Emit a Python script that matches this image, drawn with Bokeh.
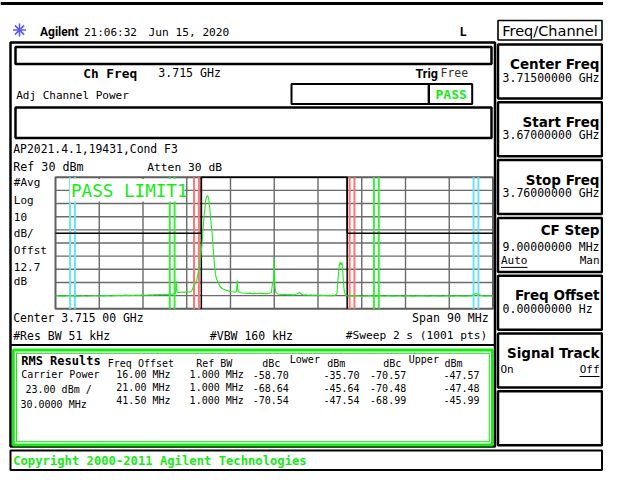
from bokeh.plotting import figure
from bokeh.models import Range1d
from bokeh.core.properties import value
from bokeh.embed import file_html
from bokeh.resources import INLINE

# ---------------- data ----------------
CENTER_GHZ = 3.715
SPAN_MHZ = 90.0
REF_DBM = 30.0
DB_PER_DIV = 10.0
N_DIV = 10
INTEG_BW_MHZ = 30.0
MASK_DBM = -12.6
CARRIER_DBM = 23.00

OFFSETS_MHZ = [16.00, 21.00, 41.50]
REF_BW_MHZ = [1.000, 1.000, 1.000]
LOWER_DBC = [-58.70, -68.64, -70.54]
LOWER_DBM = [-35.70, -45.64, -47.54]
UPPER_DBC = [-70.57, -70.48, -68.99]
UPPER_DBM = [-47.57, -47.48, -45.99]
MARKER_COLORS = ["#ff7474", "#3aee3a", "#6ae4f4"]

TRACE_MHZ = [
    -45.0, -44.5, -44.0, -43.5, -43.0, -42.5, -42.0, -41.5, -41.0, -40.5,
    -40.0, -39.5, -39.0, -38.5, -38.0, -37.5, -37.0, -36.5, -36.0, -35.5,
    -35.0, -34.5, -34.0, -33.5, -33.0, -32.5, -32.0, -31.5, -31.0, -30.5,
    -30.0, -29.5, -29.0, -28.5, -28.0, -27.5, -27.0, -26.5, -26.0, -25.5,
    -25.0, -24.5, -24.0, -23.5, -23.0, -22.5, -22.0, -21.5, -21.0, -20.6,
    -20.3, -20.15, -20.0, -19.5, -19.0, -18.5, -18.0, -17.5, -17.0, -16.6,
    -16.2, -15.9, -15.6, -15.4, -15.1, -14.8, -14.5, -14.3, -14.1, -13.9,
    -13.7, -13.5, -13.3, -13.1, -12.9, -12.7, -12.5, -12.3, -12.1, -11.9,
    -11.6, -11.3, -11.0, -10.5, -10.0, -9.5, -9.0, -8.5, -8.0, -7.75,
    -7.6, -7.45, -7.0, -6.5, -6.0, -5.5, -5.0, -4.5, -4.0, -3.5,
    -3.0, -2.5, -2.0, -1.5, -1.0, -0.6, -0.35, -0.15, -0.05, 0.1,
    0.3, 0.7, 1.2, 1.7, 2.2, 2.7, 3.2, 3.7, 4.2, 4.7,
    5.2, 5.6, 6.0, 6.5, 7.0, 7.5, 8.0, 8.5, 9.0, 9.5,
    10.0, 10.5, 11.0, 11.5, 12.0, 12.5, 12.9, 13.15, 13.35, 13.55,
    13.75, 13.95, 14.15, 14.35, 14.6, 15.0, 15.5, 16.0, 16.5, 17.0,
    17.5, 18.0, 18.5, 19.0, 19.5, 20.0, 20.5, 21.0, 21.5, 22.0,
    22.5, 23.0, 23.5, 24.0, 24.5, 25.0, 25.5, 26.0, 26.5, 27.0,
    27.5, 28.0, 28.5, 29.0, 29.5, 30.0, 30.5, 31.0, 31.5, 32.0,
    32.5, 33.0, 33.5, 34.0, 34.5, 35.0, 35.5, 36.0, 36.5, 37.0,
    37.5, 38.0, 38.5, 39.0, 39.5, 40.0, 40.5, 41.0, 41.5, 42.0,
    42.5, 43.0, 43.5, 44.0, 44.5, 45.0,
]
TRACE_DBM = [
    -60.3, -60.0, -60.5, -60.2, -60.4, -59.9, -60.3, -60.1, -60.6, -60.2,
    -60.4, -60.0, -60.3, -60.5, -60.1, -60.3, -59.9, -60.2, -60.4, -60.0,
    -60.2, -59.8, -60.1, -60.3, -59.9, -60.0, -59.7, -60.1, -59.8, -59.6,
    -60.0, -59.7, -59.9, -59.5, -59.8, -59.6, -59.4, -59.7, -59.5, -59.3,
    -59.6, -59.2, -59.4, -59.0, -59.3, -58.9, -59.1, -58.7, -58.9, -58.4,
    -57.8, -49.0, -57.3, -57.6, -57.2, -57.5, -57.1, -57.4, -56.6, -53.0,
    -50.6, -47.5, -42.0, -37.5, -30.0, -18.0, -2.0, 5.0, 12.5, 15.2,
    16.0, 14.0, 7.5, -1.0, -8.5, -17.0, -27.0, -36.5, -43.5, -47.0,
    -49.5, -52.0, -53.8, -55.0, -55.8, -56.2, -56.8, -57.1, -57.3, -56.5,
    -48.5, -56.8, -57.6, -58.0, -58.2, -58.4, -58.1, -58.5, -58.3, -58.6,
    -58.2, -58.5, -58.3, -58.6, -58.2, -57.6, -50.5, -50.0, -31.2, -51.0,
    -57.5, -58.7, -58.9, -59.2, -59.0, -59.3, -59.1, -59.4, -59.2, -58.8,
    -57.6, -59.0, -59.5, -59.3, -59.7, -59.4, -59.8, -59.5, -59.9, -59.6,
    -59.9, -59.7, -60.0, -59.8, -60.1, -59.8, -58.5, -46.0, -38.0, -34.6,
    -36.5, -34.8, -45.0, -55.0, -59.5, -60.1, -60.4, -60.2, -60.5, -60.1,
    -60.3, -60.6, -60.2, -60.4, -60.0, -60.3, -60.5, -60.2, -60.4, -60.1,
    -60.5, -60.3, -60.0, -60.4, -60.2, -60.5, -60.1, -60.3, -60.6, -60.2,
    -60.0, -60.4, -60.2, -60.5, -60.1, -60.3, -60.0, -60.4, -60.2, -60.5,
    -60.3, -60.1, -60.4, -60.2, -60.5, -60.3, -60.0, -60.4, -60.2, -60.5,
    -60.1, -60.3, -60.4, -60.2, -60.5, -60.1, -60.3, -59.2, -58.4, -58.9,
    -59.8, -60.2, -60.4, -60.1, -60.3, -60.2,
]

# ---------------- layout (page pixel space) ----------------
X0, X1 = 0, 603
Y0, Y1 = 0, 477
GX0, GX1 = 55.0, 492.5
GY0, GY1 = 176.7, 308.3
PL, PR = 497.5, 601.5          # soft-key panel
TXR = PR - 2.5                 # right text edge in panel

p = figure(width=603, height=477, x_range=Range1d(X0, X1), y_range=Range1d(Y1, Y0),
           output_backend="svg", toolbar_location=None, x_axis_type=None, y_axis_type=None,
           min_border=0, background_fill_color="white", border_fill_color="white")
p.outline_line_color = None
p.xgrid.visible = False
p.ygrid.visible = False

# extra ranges so the trace goes through Bokeh's own scales
ppm = (GX1 - GX0) / SPAN_MHZ
ppd = (GY1 - GY0) / (N_DIV * DB_PER_DIV)
BOT_DBM = REF_DBM - N_DIV * DB_PER_DIV
p.extra_x_ranges = {"f": Range1d(-SPAN_MHZ / 2 - (GX0 - X0) / ppm, SPAN_MHZ / 2 + (X1 - GX1) / ppm)}
p.extra_y_ranges = {"db": Range1d(BOT_DBM - (Y1 - GY1) / ppd, REF_DBM + (GY0 - Y0) / ppd)}
FR = dict(x_range_name="f", y_range_name="db")


def T(x, y, s, size=11.5, font="DejaVu Sans Mono", bold=False, color="black", align="left"):
    p.text(x=[x], y=[y], text=[s], text_font=value(font), text_font_size=f"{size}px",
           text_font_style="bold" if bold else "normal", text_color=color,
           text_align=align, text_baseline="middle")


def box(l, r, t, b, lw=2.5, color="black", fill=None):
    p.quad(left=[l], right=[r], top=[t], bottom=[b], fill_color=fill,
           line_color=color, line_width=lw)


GREEN = "#14ec14"

# ---------------- header ----------------
p.segment(x0=[0], y0=[3], x1=[603], y1=[3], line_color="black", line_width=3)
p.scatter(x=[19], y=[29.5], marker="asterisk", size=13, line_color="#5c5cf2", line_width=1.6)
T(39.5, 31, "Agilent", size=12, font="Roboto", bold=True)
T(83.5, 31.5, "21:06:32", size=11)
T(148, 31.5, "Jun 15, 2020", size=11.2)
T(459, 31.5, "L", size=12, bold=True)
box(PL, PR, 20, 39.5, lw=1.6)
T((PL + PR) / 2, 30, "Freq/Channel", size=14.5, font="DejaVu Sans", align="center")

# ---------------- screen ----------------
box(10, 494.5, 42, 446, lw=2.5)
box(15, 491, 46.5, 63.5, lw=2.5)
T(82.7, 72.7, "Ch Freq", size=12.8, bold=True)
T(157.7, 72.7, f"{CENTER_GHZ:.3f} GHz", size=11.6)
T(415, 72.7, "Trig", size=12.5, font="Roboto", bold=True)
T(440, 72.7, "Free", size=11.5, color="#333333")
T(15.7, 95, "Adj Channel Power", size=11)
box(291, 428.3, 83.5, 103.5, lw=2)
box(428.3, 471.7, 83.5, 103.5, lw=2)
T(450.7, 93.5, "PASS", size=13, bold=True, color=GREEN, align="center")
box(15, 491, 107, 137.5, lw=2.5)
T(12.7, 148.3, "AP2021.4.1,19431,Cond F3", size=11.4)
T(12.7, 166.7, f"Ref {REF_DBM:.0f} dBm", size=11.7)
T(146.7, 166.7, "Atten 30 dB", size=11.3)
for lab, yy in [("#Avg", 181.7), ("Log", 200), (f"{DB_PER_DIV:.0f}", 216), ("dB/", 232.7),
                ("Offst", 250), ("12.7", 266), ("dB", 281)]:
    T(13.3, yy, lab, size=11)

# ---------------- graticule ----------------
vx = [-SPAN_MHZ / 2 + i * SPAN_MHZ / N_DIV for i in range(1, N_DIV)]
p.segment(x0=vx, y0=[BOT_DBM] * len(vx), x1=vx, y1=[REF_DBM] * len(vx),
          line_color="#6a6a6a", line_width=1.4, **FR)
hy = [REF_DBM - j * DB_PER_DIV for j in range(1, N_DIV)]
p.segment(x0=[-SPAN_MHZ / 2] * len(hy), y0=hy, x1=[SPAN_MHZ / 2] * len(hy), y1=hy,
          line_color="#6a6a6a", line_width=1.4, **FR)
p.quad(left=[-SPAN_MHZ / 2], right=[SPAN_MHZ / 2], top=[REF_DBM], bottom=[BOT_DBM],
       fill_color=None, line_color="#5e5e5e", line_width=2, **FR)

# marker pairs from the table offsets
for off, bw, col in zip(OFFSETS_MHZ, REF_BW_MHZ, MARKER_COLORS):
    xs = [s * off + d * bw / 2 for s in (-1, 1) for d in (-1, 1)]
    p.segment(x0=xs, y0=[BOT_DBM] * 4, x1=xs, y1=[REF_DBM] * 4, line_color=col,
              line_width=2, **FR)

# channel edges and mask
ch = INTEG_BW_MHZ / 2
p.segment(x0=[-ch, ch], y0=[BOT_DBM] * 2, x1=[-ch, ch], y1=[REF_DBM] * 2,
          line_color="black", line_width=1.5, **FR)
p.line(x=[-SPAN_MHZ / 2, -ch, -ch, ch, ch, SPAN_MHZ / 2],
       y=[MASK_DBM, MASK_DBM, REF_DBM, REF_DBM, MASK_DBM, MASK_DBM],
       line_color="black", line_width=1.5, **FR)

# PASS LIMIT1 banner
box(69.5, 184, 178.5, 201, lw=0, color=None, fill="white")
T(70.5, 190, "PASS LIMIT1", size=17.6, color=GREEN)

# trace
p.line(x=TRACE_MHZ, y=TRACE_DBM, line_color="#1eee1e", line_width=1.1, **FR)

# bottom annotations
T(12.7, 317.3, f"Center {CENTER_GHZ:.3f} 00 GHz", size=11.4)
T(488.3, 317.3, f"Span {SPAN_MHZ:.0f} MHz", size=11.6, align="right")
T(12.7, 335, "#Res BW 51 kHz", size=11.5)
T(209.3, 335, "#VBW 160 kHz", size=11.5)
T(486.7, 335, "#Sweep 2 s (1001 pts)", size=11.2, align="right")
p.segment(x0=[10], y0=[344.5], x1=[494.5], y1=[344.5], line_color="black", line_width=2)

# ---------------- RMS results ----------------
box(12.8, 492, 349.5, 444.5, lw=3, color=GREEN)
box(16, 488.8, 352.8, 441.2, lw=1, color=GREEN)
T(20.7, 360, "RMS Results", size=12, bold=True)
T(107.3, 362.7, "Freq Offset", size=10)
T(195.7, 362.7, "Ref BW", size=10)
T(261.7, 362.7, "dBc", size=10)
T(289.3, 359, "Lower", size=10)
T(326.7, 362.7, "dBm", size=10)
T(382.7, 362.7, "dBc", size=10)
T(408.3, 359, "Upper", size=10)
T(444, 362.7, "dBm", size=10)
T(20.7, 374.3, "Carrier Power", size=10)
T(25, 389, f"{CARRIER_DBM:.2f} dBm /", size=10)
T(20, 404, f"{INTEG_BW_MHZ:.4f} MHz", size=10)
rows_y = [374.3, 387.0, 399.5]
for i, yy in enumerate(rows_y):
    T(170, yy, f"{OFFSETS_MHZ[i]:.2f} MHz", size=10, align="right")
    T(243.3, yy, f"{REF_BW_MHZ[i]:.3f} MHz", size=10, align="right")
    T(288.3, yy, f"{LOWER_DBC[i]:.2f}", size=10, align="right")
    T(359, yy, f"{LOWER_DBM[i]:.2f}", size=10, align="right")
    T(405.7, yy, f"{UPPER_DBC[i]:.2f}", size=10, align="right")
    T(479, yy, f"{UPPER_DBM[i]:.2f}", size=10, align="right")

# copyright bar
box(10, PR, 450, 469.5, lw=2)
T(12.7, 460, "Copyright 2000-2011 Agilent Technologies", size=12.2, bold=True, color=GREEN)

# ---------------- right soft-key panel ----------------
KEY_TOP = [44 + 57.8 * i for i in range(7)]
KEY_H = 54
for t in KEY_TOP:
    box(PL, PR, t, t + KEY_H, lw=2.5)


def key2(i, title, val):
    c = KEY_TOP[i] + KEY_H / 2
    T(TXR, c - 7.5, title, size=13.5, font="DejaVu Sans", bold=True, align="right")
    T(TXR, c + 6, val, size=11.5, align="right")


key2(0, "Center Freq", f"{CENTER_GHZ:.8f} GHz")
key2(1, "Start Freq", f"{CENTER_GHZ - SPAN_MHZ / 2000:.8f} GHz")
key2(2, "Stop Freq", f"{CENTER_GHZ + SPAN_MHZ / 2000:.8f} GHz")
c = KEY_TOP[3] + KEY_H / 2
T(TXR, c - 15.4, "CF Step", size=13.5, font="DejaVu Sans", bold=True, align="right")
T(TXR, c + 1.6, f"{SPAN_MHZ / N_DIV:.8f} MHz", size=11.5, align="right")
T(PL + 3, c + 15.6, "Auto", size=11)
T(TXR, c + 15.6, "Man", size=11, align="right")
p.segment(x0=[PL + 3], y0=[c + 22.5], x1=[PL + 29.5], y1=[c + 22.5], line_color="black", line_width=1)
key2(4, "Freq Offset", "0.00000000  Hz")
c = KEY_TOP[5] + KEY_H / 2
T(TXR, c - 8, "Signal Track", size=13.5, font="DejaVu Sans", bold=True, align="right")
T(PL + 2.5, c + 9, "On", size=11)
T(TXR, c + 9, "Off", size=11, align="right")
p.segment(x0=[TXR - 20], y0=[c + 16], x1=[TXR], y1=[c + 16], line_color="black", line_width=1)

open("out.html", "w").write(file_html(p, INLINE))
